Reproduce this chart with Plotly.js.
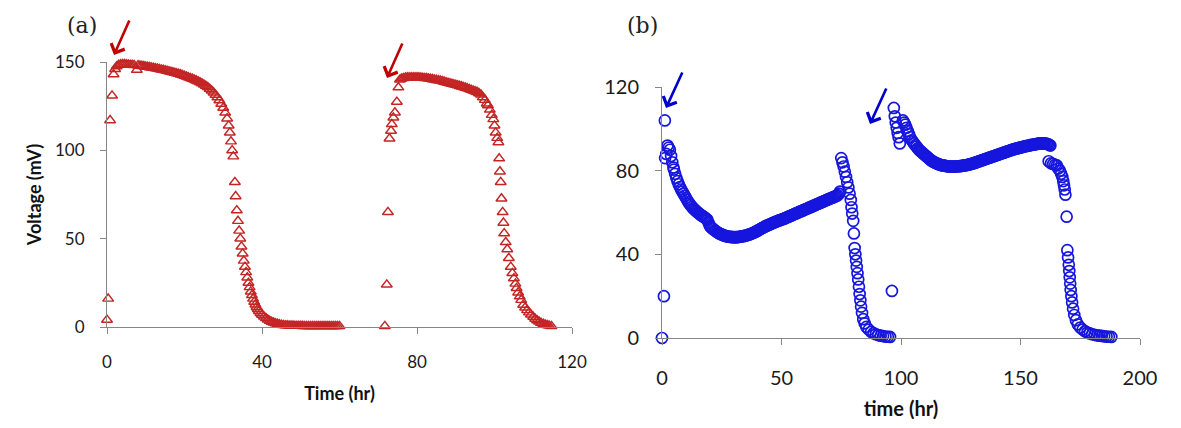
<!DOCTYPE html>
<html>
<head>
<meta charset="utf-8">
<script src="https://cdn.plot.ly/plotly-3.0.1.min.js"></script>
<style>html,body{margin:0;padding:0;background:#fff;}#chart{width:1181px;height:428px;}</style>
</head>
<body>
<div id="chart"></div>
<script>
// ---------- Panel (a): [time (hr), voltage (mV)], red triangles ----------
const cycleA1 = [[0,4],[0.3,16],[0.8,117],[1.3,131],[1.7,143],[2.1,146],[2.5,147.5],[3,148.3],[3.5,148.6],[4,148.7],[4.5,148.7],[5,148.6],[5.5,148.5],[6,148.4],[6.5,148.3],[7,148.2],[7.7,145.5],[8,148],[8.5,147.9],[9,147.7],[9.5,147.6],[10,147.4],[10.5,147.2],[11,147],[11.5,146.8],[12,146.6],[12.5,146.4],[13,146.2],[13.5,146],[14,145.7],[14.5,145.5],[15,145.2],[15.5,145],[16,144.7],[16.5,144.4],[17,144.1],[17.5,143.8],[18,143.5],[18.5,143.2],[19,142.9],[19.5,142.5],[20,142.1],[20.5,141.7],[21,141.3],[21.5,140.9],[22,140.5],[22.5,140],[23,139.5],[23.5,139],[24,138.5],[24.5,137.9],[25,137.2],[25.5,136.5],[26,135.7],[26.5,134.8],[27,133.8],[27.5,132.7],[28,131.4],[28.5,130],[29,128.3],[29.5,126.3],[30,124],[30.5,121.3],[31,118],[31.4,114],[31.7,110],[32,105],[32.3,100],[32.6,96.5],[33,82],[33.2,74],[33.5,66],[33.8,60],[34.1,54.5],[34.4,50],[34.7,45.5],[35,41.5],[35.3,37.5],[35.6,34],[35.9,31],[36.2,28],[36.5,25],[36.8,22.5],[37.1,20],[37.4,18],[37.7,16],[38,14.2],[38.3,12.7],[38.6,11.3],[38.9,10.1],[39.2,9],[39.6,7.9],[40,6.9],[40.5,5.9],[41,5],[41.5,4.2],[42,3.5],[42.5,2.9],[43,2.4],[43.5,2],[44,1.7],[44.5,1.4],[45,1.2],[45.5,1],[46,0.9],[46.5,0.85],[47,0.8],[47.5,0.75],[48,0.7],[48.5,0.65],[49,0.6],[49.5,0.6],[50,0.6],[50.5,0.55],[51,0.5],[51.5,0.5],[52,0.5],[52.5,0.5],[53,0.5],[53.5,0.5],[54,0.5],[54.5,0.5],[55,0.5],[55.5,0.5],[56,0.5],[56.5,0.5],[57,0.5],[57.5,0.5],[58,0.5],[58.5,0.5],[59,0.5],[59.5,0.5],[60,0.5]];
const cycleA2 = [[71.7,0.5],[72.2,24],[72.5,65],[72.9,106.6],[73.3,111],[73.5,114.8],[73.9,118.5],[74.3,121.4],[74.8,127.4],[75.2,135.6],[75.6,140],[76,140.6],[76.5,140.9],[77,141.1],[77.5,141.2],[78,141.3],[78.5,141.3],[79,141.3],[79.5,141.3],[80,141.3],[80.5,141.2],[81,141.1],[81.5,141],[82,140.9],[82.5,140.8],[83,140.6],[83.5,140.4],[84,140.2],[84.5,140],[85,139.8],[85.5,139.6],[86,139.4],[86.5,139.1],[87,138.8],[87.5,138.5],[88,138.2],[88.5,137.9],[89,137.6],[89.5,137.3],[90,137],[90.5,136.7],[91,136.4],[91.5,136.1],[92,135.8],[92.5,135.4],[93,135],[93.5,134.6],[94,134.2],[94.5,133.8],[95,133.4],[95.5,133],[96,132.3],[96.5,131.5],[97,130],[97.5,128.5],[98,126.5],[98.3,125.5],[98.8,123],[99.3,120],[99.7,117.6],[100,114],[100.3,110],[100.7,107],[101,104.5],[101.2,95.4],[101.4,88],[101.6,82],[101.8,72.7],[102.1,65],[102.3,59],[102.5,53],[102.9,48],[103.3,44],[103.7,39],[104.2,34],[104.6,30.5],[105,27.5],[105.4,24.5],[105.7,22],[106.1,19.5],[106.5,17.3],[106.9,15.3],[107.4,12.5],[107.9,11],[108.4,9.5],[108.9,8.2],[109.4,7],[110,5.7],[110.5,4.6],[111,3.7],[111.5,3],[112,2.3],[112.6,1.7],[113.1,1.3],[113.6,1],[114.1,0.7],[114.7,0.5]];

// ---------- Panel (b): [time (hr), voltage], blue circles ----------
const cycleB1 = [[0,0],[0.8,20],[1.2,104],[1.3,86],[1.8,88],[2.3,92],[2.8,91],[3.3,90],[3.8,87],[4.3,84],[4.8,81.5],[5,80.5],[5.5,78.5],[6,76.5],[6.5,75],[7,73.5],[7.5,72.2],[8,71],[8.5,70],[9,69],[9.5,68],[10,67],[10.5,66],[11,65],[11.5,64.2],[12,63.5],[12.5,62.7],[13,62],[13.5,61.5],[14,61],[14.5,60.5],[15,60],[15.5,59.5],[16,59],[16.5,58.6],[17,58.3],[17.5,57.9],[18,57.5],[18.5,57],[19,56.5],[19.5,55],[20,53.5],[20.5,53],[21,52.5],[21.5,52],[22,51.5],[22.5,51.1],[23,50.7],[23.5,50.3],[24,50],[24.5,49.7],[25,49.5],[25.5,49.2],[26,49],[26.5,48.8],[27,48.7],[27.5,48.5],[28,48.4],[28.5,48.3],[29,48.3],[29.5,48.2],[30,48.2],[30.5,48.2],[31,48.2],[31.5,48.2],[32,48.3],[32.5,48.4],[33,48.5],[33.5,48.6],[34,48.7],[34.5,48.8],[35,49],[35.5,49.1],[36,49.3],[36.5,49.5],[37,49.7],[37.5,49.9],[38,50.2],[38.5,50.4],[39,50.7],[39.5,51],[40,51.3],[40.5,51.6],[41,52],[41.5,52.3],[42,52.6],[42.5,52.9],[43,53.2],[43.5,53.5],[44,53.8],[44.5,54],[45,54.3],[45.5,54.5],[46,54.8],[46.5,55],[47,55.3],[47.5,55.5],[48,55.8],[48.5,56],[49,56.2],[49.5,56.4],[50,56.6],[50.5,56.8],[51,57],[51.5,57.3],[52,57.5],[52.5,57.8],[53,58],[53.5,58.3],[54,58.5],[54.5,58.8],[55,59],[55.5,59.3],[56,59.5],[56.5,59.8],[57,60],[57.5,60.3],[58,60.5],[58.5,60.8],[59,61],[59.5,61.3],[60,61.5],[60.5,61.8],[61,62],[61.5,62.3],[62,62.5],[62.5,62.8],[63,63],[63.5,63.3],[64,63.5],[64.5,63.8],[65,64],[65.5,64.3],[66,64.5],[66.5,64.8],[67,65],[67.5,65.3],[68,65.5],[68.5,65.8],[69,66],[69.5,66.3],[70,66.5],[70.5,66.8],[71,67],[71.5,67.2],[72,67.5],[72.5,67.7],[73,68],[73.5,68.3],[74,69],[74.5,70],[75,86],[75.5,84],[76,82],[76.5,79.5],[77,77],[77.5,74.5],[78,72],[78.5,69],[79,66],[79.3,62.5],[79.6,59.5],[80,56],[80.3,50],[80.6,43],[80.9,40],[81.2,37],[81.5,34],[81.8,31],[82.1,28],[82.4,24.5],[82.7,21],[83,18],[83.3,15],[83.7,12],[84.2,9],[84.8,7],[85.5,5.3],[86.5,4],[87.5,3],[88.5,2.3],[89.5,1.8],[90.5,1.4],[91.5,1.1],[92.5,0.9],[93.5,0.7],[94.5,0.6],[95.4,0.5]];
const cycleB2 = [[96.2,22.5],[97,110],[97.4,106],[97.8,103],[98.2,100.5],[98.6,98],[99,96],[99.5,93],[100.8,104],[101.3,103],[101.8,102],[102.3,100.5],[102.8,99],[103.3,97.5],[103.8,96],[104.5,94.5],[105,93.7],[105.5,93],[106,92.2],[106.5,91.5],[107,90.7],[107.5,90],[108,89.5],[108.5,89],[109,88.5],[109.5,88],[110,87.5],[110.5,87],[111,86.5],[111.5,86],[112,85.5],[112.5,85],[113,84.6],[113.5,84.3],[114,84],[114.5,83.7],[115,83.4],[115.5,83.2],[116,83],[116.5,82.8],[117,82.6],[117.5,82.5],[118,82.4],[118.5,82.3],[119,82.2],[119.5,82.1],[120,82],[120.5,82],[121,82],[121.5,82],[122,82],[122.5,82],[123,82],[123.5,82.1],[124,82.1],[124.5,82.2],[125,82.2],[125.5,82.3],[126,82.4],[126.5,82.5],[127,82.6],[127.5,82.7],[128,82.8],[128.5,83],[129,83.1],[129.5,83.3],[130,83.4],[130.5,83.6],[131,83.8],[131.5,84],[132,84.2],[132.5,84.4],[133,84.6],[133.5,84.8],[134,85],[134.5,85.2],[135,85.4],[135.5,85.6],[136,85.8],[136.5,86],[137,86.2],[137.5,86.4],[138,86.6],[138.5,86.8],[139,87],[139.5,87.2],[140,87.4],[140.5,87.6],[141,87.8],[141.5,88],[142,88.2],[142.5,88.4],[143,88.6],[143.5,88.8],[144,89],[144.5,89.2],[145,89.4],[145.5,89.6],[146,89.8],[146.5,90],[147,90.2],[147.5,90.3],[148,90.5],[148.5,90.6],[149,90.8],[149.5,90.9],[150,91.1],[150.5,91.2],[151,91.4],[151.5,91.5],[152,91.7],[152.5,91.8],[153,91.9],[153.5,92],[154,92.2],[154.5,92.3],[155,92.4],[155.5,92.5],[156,92.6],[156.5,92.7],[157,92.8],[157.5,92.9],[158,93],[158.5,93],[159,93],[159.5,93],[160,93],[160.5,92.9],[161,92.8],[161.5,92.7],[162,92.4],[162.5,92],[161.8,84.5],[162.8,83.5],[163.7,83.2],[164.5,82.8],[165.2,82.5],[165.8,81],[166.5,80],[167,78.5],[167.5,77],[167.9,75],[168.2,73],[168.5,71],[168.8,68.5],[169.3,58],[169.6,42],[169.9,38.5],[170.2,35],[170.4,32],[170.6,29],[170.8,26],[171,23],[171.3,20],[171.6,17],[172,14],[172.5,11],[173.2,8.5],[174,6.5],[175,5],[176,4],[177,3.2],[178,2.6],[179,2.2],[180,1.8],[181,1.5],[182,1.3],[183,1.1],[184,1],[185,0.8],[186,0.7],[187,0.6],[188,0.5]];

// tick values
const ticksAx = [0, 40, 80, 120];
const ticksAy = [0, 50, 100, 150];
const ticksBx = [0, 50, 100, 150, 200];
const ticksBy = [0, 40, 80, 120];

const W = 1181, H = 428;
const px = v => v / W;
const py = v => 1 - v / H;
const col = (arr, i) => arr.map(p => p[i]);

const axisLine = '#868686';
const tickFont = (s) => ({family: 'Lato, "Open Sans", sans-serif', size: s, color: '#1a1a1a'});
const titleFont = (s) => ({family: 'Lato, "Open Sans", sans-serif', size: s, color: '#111', weight: 'bold'});

const baseAxis = {
  showline: true, linecolor: axisLine, linewidth: 1,
  ticks: 'outside', tickcolor: axisLine, ticklen: 6, tickwidth: 1,
  showgrid: false, zeroline: false, fixedrange: true
};

const dataA = cycleA1.concat(cycleA2);
const dataB = cycleB1.concat(cycleB2);

const traces = [
  {
    x: col(dataA, 0), y: col(dataA, 1),
    xaxis: 'x', yaxis: 'y', type: 'scatter', mode: 'markers', cliponaxis: false,
    marker: {symbol: 'triangle-up-open', size: 9.5, color: '#C42424', line: {width: 1.45}},
    hoverinfo: 'x+y', showlegend: false
  },
  {
    x: col(dataB, 0), y: col(dataB, 1),
    xaxis: 'x2', yaxis: 'y2', type: 'scatter', mode: 'markers', cliponaxis: false,
    marker: {symbol: 'circle-open', size: 11, color: '#1616DE', line: {width: 1.7}},
    hoverinfo: 'x+y', showlegend: false
  }
];

const arrow = (tipX, tipY, dx, dy, color) => ({
  xref: 'paper', yref: 'paper', x: px(tipX), y: py(tipY),
  ax: dx, ay: dy, text: '', showarrow: true,
  arrowhead: 4, arrowsize: 1.1, arrowwidth: 2.6, arrowcolor: color
});

const labelFont = {family: '"DejaVu Serif", "Liberation Serif", serif', size: 22, color: '#222'};

const layout = {
  width: W, height: H,
  margin: {l: 0, r: 0, t: 0, b: 0},
  paper_bgcolor: '#ffffff', plot_bgcolor: '#ffffff',
  showlegend: false,
  xaxis: Object.assign({}, baseAxis, {
    domain: [px(107), px(572)], range: [0, 120], tickvals: ticksAx,
    tickfont: tickFont(17), ticklabelstandoff: 14, anchor: 'y',
    title: {text: 'Time (hr)', font: titleFont(18), standoff: 15}
  }),
  yaxis: Object.assign({}, baseAxis, {
    domain: [py(327), py(62)], range: [0, 150], tickvals: ticksAy,
    tickfont: tickFont(17), ticklabelstandoff: 12, anchor: 'x',
    title: {text: 'Voltage (mV)', font: titleFont(18), standoff: 8}
  }),
  xaxis2: Object.assign({}, baseAxis, {
    domain: [px(662), px(1140)], range: [0, 200], tickvals: ticksBx,
    tickfont: tickFont(20), ticklabelstandoff: 16, anchor: 'y2',
    title: {text: 'time (hr)', font: titleFont(20), standoff: 13}
  }),
  yaxis2: Object.assign({}, baseAxis, {
    domain: [py(338), py(87)], range: [0, 120], tickvals: ticksBy,
    tickfont: tickFont(20), ticklabelstandoff: 12, anchor: 'x2'
  }),
  annotations: [
    {xref: 'paper', yref: 'paper', x: px(82), y: py(26), text: '(a)', showarrow: false,
     xanchor: 'center', yanchor: 'middle', font: labelFont},
    {xref: 'paper', yref: 'paper', x: px(642), y: py(26), text: '(b)', showarrow: false,
     xanchor: 'center', yanchor: 'middle', font: labelFont},
    arrow(114, 55, 16, -36, '#C00000'),
    arrow(387, 78, 16, -36, '#C00000'),
    arrow(666, 108, 17, -37, '#0000CC'),
    arrow(870, 124, 17, -37, '#0000CC')
  ]
};

Plotly.newPlot('chart', traces, layout, {displayModeBar: false, staticPlot: true});
</script>
</body>
</html>
